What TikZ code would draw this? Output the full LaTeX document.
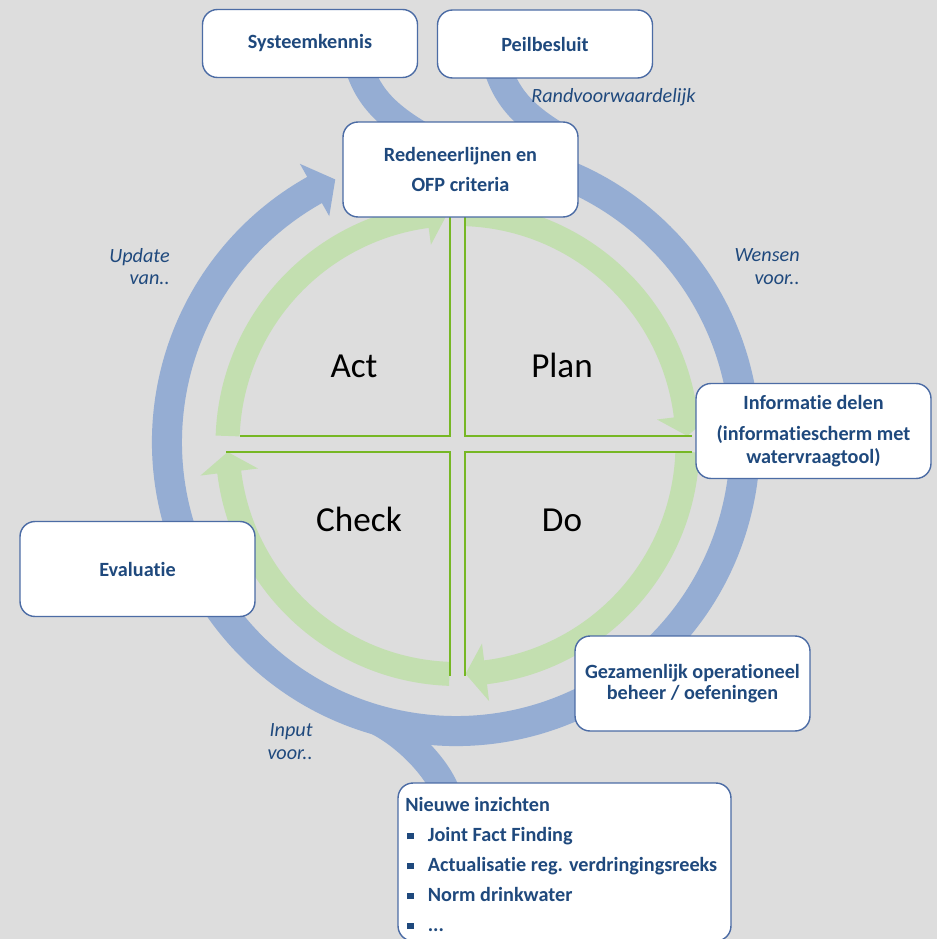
\documentclass[tikz,border=0pt]{standalone}
\usepackage{fontspec}
\setmainfont{Carlito}[RawFeature={-liga;-clig;-dlig;-calt}]
\usetikzlibrary{positioning}
\pgfdeclarelayer{background}
\pgfsetlayers{background,main}

\definecolor{bggray}{RGB}{221,221,221}
\definecolor{ringblue}{RGB}{149,173,211}
\definecolor{ringgreen}{RGB}{195,223,176}
\definecolor{crossgreen}{RGB}{118,183,36}
\definecolor{textblue}{RGB}{31,73,125}
\definecolor{boxline}{RGB}{76,108,165}

% thick ring arrow: colour, centre, radius, half band, half head, start, head base, tip
\newcommand{\cyclearrow}[8]{%
  \fill[#1, shift={#2}] (#6:{#3+#4}) arc[start angle=#6, end angle=#7, radius={#3+#4}]
    -- (#7:{#3+#5}) -- (#8:#3) -- (#7:{#3-#5}) -- (#7:{#3-#4})
    arc[start angle=#7, end angle=#6, radius={#3-#4}] -- cycle;
}
\newcommand{\sqbullet}{\hspace*{1.2pt}\raisebox{1.1pt}{\rule{3.6pt}{3.6pt}}\hspace{8pt}}

\tikzset{
  infobox/.style={draw=boxline, line width=0.8pt, fill=white, rounded corners=0.3cm,
    minimum width=4.7cm, minimum height=1.9cm, align=center, text=textblue,
    font=\bfseries\fontsize{11.5}{14}\selectfont, inner sep=2pt},
  smallbox/.style={infobox, minimum width=4.3cm, minimum height=1.36cm},
  listtext/.style={text=textblue, font=\bfseries\fontsize{11.5}{17}\selectfont,
    align=left, inner sep=0pt},
  pdca/.style={font=\fontsize{20}{24}\selectfont, text=black, anchor=base},
  flowlabel/.style={font=\itshape\fontsize{11.5}{13}\selectfont, text=textblue,
    align=right, anchor=east, inner sep=0pt},
  ringband/.style={draw=ringblue, line width=0.56cm},
  crossline/.style={draw=crossgreen, line width=1.1pt}
}

\begin{document}
\begin{tikzpicture}[x=0.02cm, y=0.02cm]
\useasboundingbox (0,0) rectangle (937,-939);

% boxes
\node[smallbox] (syst) at (310,-43.5) {Systeemkennis};
\node[smallbox] (peil) at (545,-44) {Peilbesluit};
\node[infobox] (redeneer) at (460.5,-169.5) {Redeneerlijnen en\\[3pt]OFP criteria};
\node[infobox] (info) at (813.5,-431) {Informatie delen\\[3.5pt](informatiescherm met\\[-1pt]watervraagtool)};
\node[infobox] (eval) at (137.5,-569) {Evaluatie};
\node[infobox] (gezamenlijk) at (692.5,-683.5) {Gezamenlijk operationeel\\[-2pt]beheer / oefeningen};
\node[infobox, minimum width=6.66cm, minimum height=3.16cm] (nieuw) at (564.5,-862) {};
\node[listtext, anchor=north west] (nieuwtxt) at (405,-797) {Nieuwe inzichten\\
  \sqbullet Joint Fact Finding\\
  \sqbullet Actualisatie reg. verdringingsreeks\\
  \sqbullet Norm drinkwater\\
  \sqbullet ...};

% labels along the cycle
\node[flowlabel, anchor=west, align=left] (rand) at (531,-97) {Randvoorwaardelijk};
\node[flowlabel] (wensen) at (800,-266.5) {Wensen\\voor..};
\node[flowlabel] (update) at (170,-266.5) {Update\\van..};
\node[flowlabel] (inputlbl) at (313,-741.5) {Input\\voor..};

% PDCA
\node[pdca] (act) at (354,-377) {Act};
\node[pdca] (plan) at (562,-377) {Plan};
\node[pdca] (check) at (359,-531) {Check};
\node[pdca] (do) at (562,-531) {Do};

% branch ends
\coordinate (systfoot) at (357,-60);
\coordinate (systjoin) at (425,-138);
\coordinate (peilfoot) at (496,-62);
\coordinate (peiljoin) at (564,-140);
\coordinate (ringsplit) at (365,-716);
\coordinate (nieuwtop) at (447,-795);

\begin{pgfonlayer}{background}
\fill[bggray] (0,0) rectangle (937,-939);
% outer cycle
\cyclearrow{ringblue}{(456,-442)}{289}{15}{30}{75}{-240.7}{-245.3}
\draw[ringband] (systfoot) .. controls (366,-95) and (385,-115) .. (systjoin);
\draw[ringband] (peilfoot) .. controls (505,-97) and (524,-117) .. (peiljoin);
\draw[ringband] (ringsplit) .. controls (398,-727) and (438,-766) .. (nieuwtop);
% pdca cycle
\cyclearrow{ringgreen}{(457.5,-444)}{230}{12}{29}{178}{97.6}{92.6}
\cyclearrow{ringgreen}{(457.5,-444)}{230}{12}{29}{88}{7}{2}
\cyclearrow{ringgreen}{(457.5,-444)}{230}{12}{29}{-2}{-83}{-88}
\cyclearrow{ringgreen}{(457.5,-444)}{230}{12}{29}{-92}{-173}{-178}
\draw[crossline] (450,-210) -- (450,-436) -- (240,-436);
\draw[crossline] (465,-210) -- (465,-436) -- (692,-436);
\draw[crossline] (226,-452) -- (450,-452) -- (450,-676);
\draw[crossline] (692,-452) -- (465,-452) -- (465,-676);
\end{pgfonlayer}
\end{tikzpicture}
\end{document}
